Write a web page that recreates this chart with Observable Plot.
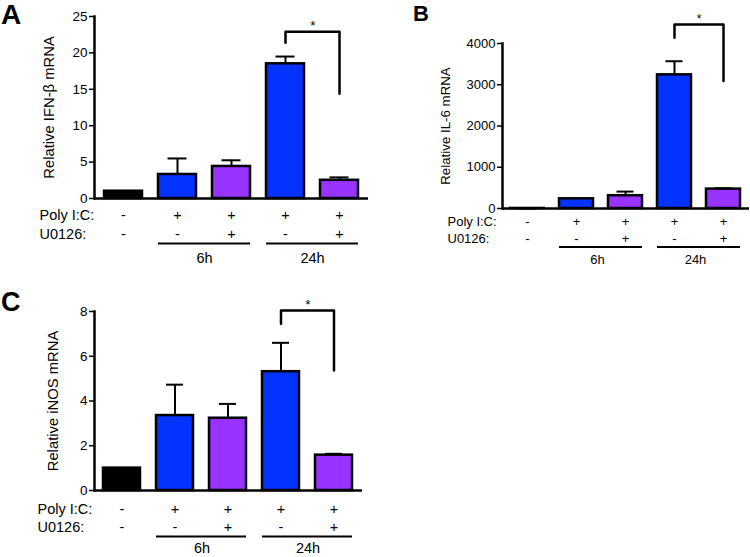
<!DOCTYPE html>
<html>
<head>
<meta charset="utf-8">
<script src="https://cdn.jsdelivr.net/npm/d3@7"></script>
<script src="https://cdn.jsdelivr.net/npm/@observablehq/plot@0.6"></script>
<style>
  html, body { margin: 0; padding: 0; background: #fff; }
  #root { position: relative; width: 750px; height: 557px; overflow: hidden; font-family: "Liberation Sans", Arial, sans-serif; }
  .panel { position: absolute; }
  .letter { position: absolute; font-weight: bold; line-height: 1; color: #000; font-family: "Liberation Sans", Arial, sans-serif; }
</style>
</head>
<body>
<div id="root"></div>
<script>
// ---- data ----
const categories = ["ctrl", "p6", "u6", "p24", "u24"];
const polyIC = ["-", "+", "+", "+", "+"];
const u0126 = ["-", "-", "+", "-", "+"];
const barColors = ["#000000", "#0433ff", "#9933ff", "#0433ff", "#9933ff"];
const timeGroups = ["6h", "24h"];
const groupStart = ["p6", "p24"];
const groupEnd = ["u6", "u24"];

const ifnb = [1, 3.3, 4.4, 18.5, 2.5];
const ifnbErr = [0, 2.2, 0.85, 1.0, 0.4];
const ifnbTicks = [0, 5, 10, 15, 20, 25];

const il6 = [1, 235, 310, 3240, 470];
const il6Err = [0, 0, 100, 330, 20];
const il6Ticks = [0, 1000, 2000, 3000, 4000];

const inos = [1, 3.35, 3.23, 5.31, 1.58];
const inosErr = [0, 1.38, 0.64, 1.29, 0.06];
const inosTicks = [0, 2, 4, 6, 8];

const bracketX = ["p24", "p24", "u24", "u24"];
const ifnbBracket = [21.4, 22.9, 22.9, 14.4];
const il6Bracket = [4140, 4460, 4460, 3090];
const inosBracket = [7.45, 8.04, 8.04, 5.36];

const sigLabel = "*";
const rowLabels = ["Poly I:C:", "U0126:"];

// ---- drawing ----
function panel(cfg) {
  const bars = categories.map((c, i) => ({c, v: cfg.values[i], e: cfg.errs[i], color: barColors[i]}));
  const rows = categories.map((c, i) => ({c, poly: polyIC[i], u: u0126[i]}));
  const groups = timeGroups.map((g, i) => ({g, s: groupStart[i], e: groupEnd[i]}));
  const bracket = bracketX.map((c, i) => ({c, v: cfg.bracket[i]}));
  const fs = cfg.fs;
  return Plot.plot({
    width: cfg.width, height: cfg.height,
    marginLeft: cfg.ml, marginRight: cfg.mr, marginTop: cfg.mt, marginBottom: cfg.mb,
    style: {fontFamily: '"Liberation Sans", Arial, sans-serif', fontSize: fs + "px", color: "black", background: "white", overflow: "visible"},
    x: {domain: categories, axis: null, paddingInner: 0.3, paddingOuter: 0.15},
    y: {domain: [0, cfg.ticks[cfg.ticks.length - 1]]},
    color: {type: "identity"},
    marks: [
      Plot.ruleX(bars, {x: "c", y1: "v", y2: d => d.v + d.e, strokeWidth: 2}),
      Plot.tickY(bars, {x: "c", y: d => d.v + d.e, strokeWidth: 2, insetLeft: cfg.capInset, insetRight: cfg.capInset}),
      Plot.barY(bars, {x: "c", y: "v", fill: "color", stroke: "black", strokeWidth: 2.5}),
      Plot.ruleY([0], {strokeWidth: 2.5}),
      Plot.frame({anchor: "left", strokeWidth: 2.5}),
      Plot.axisY({ticks: cfg.ticks, tickSize: 5, tickPadding: 2, strokeWidth: 1.5, fontSize: cfg.tickFs, label: null, tickFormat: d => String(d)}),
      Plot.text([cfg.label], {frameAnchor: "left", rotate: -90, dx: cfg.labelDx, fontSize: cfg.labelFs, textAnchor: "middle"}),
      Plot.text(rows, {x: "c", y: 0, text: "poly", dy: cfg.rows[0], fontSize: fs}),
      Plot.text(rows, {x: "c", y: 0, text: "u", dy: cfg.rows[1], fontSize: fs}),
      Plot.text([rowLabels[0]], {frameAnchor: "left", y: 0, dx: cfg.rowDx, dy: cfg.rows[0], textAnchor: "start", fontSize: fs}),
      Plot.text([rowLabels[1]], {frameAnchor: "left", y: 0, dx: cfg.rowDx, dy: cfg.rows[1], textAnchor: "start", fontSize: fs}),
      Plot.ruleY(groups, {x1: "s", x2: "e", y: 0, dy: cfg.rows[2], strokeWidth: 2}),
      Plot.text(groups, {x: "s", y: 0, text: "g", dx: cfg.groupDx, dy: cfg.rows[3], fontSize: fs}),
      Plot.line(bracket, {x: "c", y: "v", strokeWidth: 2.5}),
      Plot.text([sigLabel], {x: () => "p24", y: () => cfg.bracket[1], dx: cfg.halfStep, dy: cfg.starDy, fontSize: fs - 1})
    ]
  });
}

const root = document.getElementById("root");
function place(node, left, top) {
  const wrap = document.createElement("div");
  wrap.className = "panel";
  wrap.style.left = left + "px";
  wrap.style.top = top + "px";
  wrap.appendChild(node);
  root.appendChild(wrap);
}
function letter(t, left, top, size) {
  const d = document.createElement("div");
  d.className = "letter";
  d.textContent = t;
  d.style.left = left + "px";
  d.style.top = top + "px";
  d.style.fontSize = size + "px";
  root.appendChild(d);
}

place(panel({
  values: ifnb, errs: ifnbErr, bracket: ifnbBracket, ticks: ifnbTicks,
  label: "Relative IFN-\u03b2 mRNA",
  width: 375, height: 270, ml: 94, mr: 7, mt: 16, mb: 72,
  fs: 14.5, tickFs: 13.5, labelFs: 14.8, labelDx: -45, rowDx: -55,
  rows: [17, 36, 45, 60], groupDx: 27, halfStep: 27.4, starDy: -6, capInset: 9.5
}), 0, 0);

place(panel({
  values: il6, errs: il6Err, bracket: il6Bracket, ticks: il6Ticks,
  label: "Relative IL-6 mRNA",
  width: 370, height: 270, ml: 122, mr: 1, mt: 43, mb: 62,
  fs: 13, tickFs: 13, labelFs: 13.3, labelDx: -57, rowDx: -55,
  rows: [13.5, 30, 38.5, 51], groupDx: 21, halfStep: 24.7, starDy: -5, capInset: 8.5
}), 380, 0);

place(panel({
  values: inos, errs: inosErr, bracket: inosBracket, ticks: inosTicks,
  label: "Relative iNOS mRNA",
  width: 375, height: 277, ml: 94, mr: 13, mt: 31, mb: 67,
  fs: 14.5, tickFs: 13.5, labelFs: 14.8, labelDx: -41, rowDx: -57,
  rows: [19, 37, 46, 58], groupDx: 27, halfStep: 26.8, starDy: -6, capInset: 10
}), 0, 280);

letter("A", 1, 1, 28);
letter("B", 413, 3, 22);
letter("C", 1, 289, 27);
</script>
</body>
</html>
